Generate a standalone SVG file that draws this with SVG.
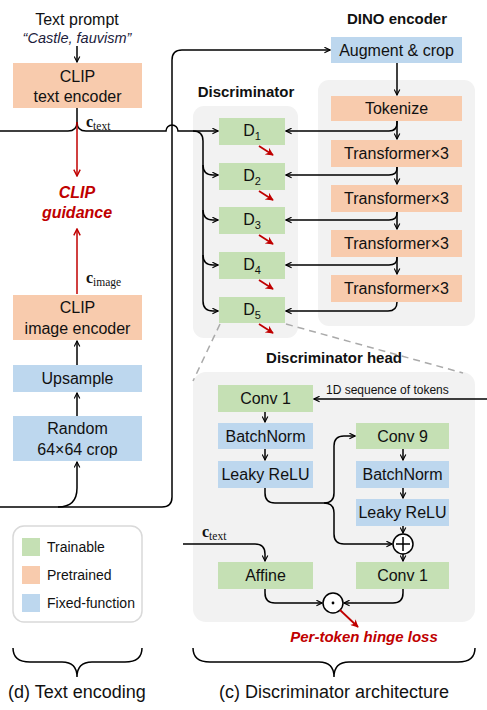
<svg xmlns="http://www.w3.org/2000/svg" width="487" height="710" viewBox="0 0 487 710">
<defs>
<marker id="ah" viewBox="0 0 10 10" refX="9" refY="5" markerWidth="7" markerHeight="7" markerUnits="userSpaceOnUse" orient="auto">
<path d="M1,1 L9,5 L1,9" fill="none" stroke="#000" stroke-width="1.6"/>
</marker>
<marker id="ahr" viewBox="0 0 10 10" refX="9" refY="5" markerWidth="8" markerHeight="8" markerUnits="userSpaceOnUse" orient="auto">
<path d="M1,1 L9,5 L1,9" fill="none" stroke="#c00000" stroke-width="1.8"/>
</marker>
<marker id="ahrf" viewBox="0 0 10 10" refX="9" refY="5" markerWidth="8" markerHeight="8" markerUnits="userSpaceOnUse" orient="auto">
<path d="M0,0 L10,5 L0,10 L3,5 Z" fill="#c00000"/>
</marker>
</defs>
<style>
text{font-family:"Liberation Sans",Arial,sans-serif;fill:#111;}
.t{font-size:16px;text-anchor:middle;}
.h{font-size:15px;font-weight:bold;text-anchor:middle;}
.red{fill:#c00000;font-weight:bold;font-style:italic;text-anchor:middle;}
.math{font-family:"Liberation Serif","DejaVu Serif",serif;}
.g{fill:#c5e0b4;}
.p{fill:#f8cbad;}
.b{fill:#bdd7ee;}
.panel{fill:#f2f2f2;}
.c{fill:none;stroke:#000;stroke-width:1.5;}
.ca{fill:none;stroke:#000;stroke-width:1.5;marker-end:url(#ah);}
.rl{fill:none;stroke:#c00000;stroke-width:1.5;marker-end:url(#ahr);}
.rs{fill:none;stroke:#c00000;stroke-width:1.8;marker-end:url(#ahrf);}
.dash{fill:none;stroke:#aaa;stroke-width:1.5;stroke-dasharray:7,5;}
</style>

<!-- panels -->
<g id="discriminator-panel">
<rect class="panel" x="193" y="106" width="105" height="232" rx="11"/>
<text class="h" x="246" y="97">Discriminator</text>
</g>
<g id="dino-panel">
<rect class="panel" x="318" y="80" width="157" height="246" rx="11"/>
<text class="h" x="397" y="24">DINO encoder</text>
</g>
<g id="head-panel">
<rect class="panel" x="193" y="372" width="282" height="250" rx="13"/>
<text class="h" x="334" y="363">Discriminator head</text>
</g>

<!-- left column -->
<g id="text-prompt">
<text x="77" y="25" style="font-size:16px;text-anchor:middle">Text prompt</text>
<text x="77" y="43" style="font-size:14.5px;font-style:italic;text-anchor:middle;fill:#1c1c3c">“Castle, fauvism”</text>
</g>
<g id="clip-text-encoder">
<rect class="p" x="13" y="63" width="129" height="45"/>
<text class="t" x="77.5" y="81.5">CLIP</text>
<text class="t" x="77.5" y="102">text encoder</text>
</g>
<g id="clip-guidance">
<text class="red" x="77" y="198" style="font-size:16px">CLIP</text>
<text class="red" x="77" y="218" style="font-size:16px">guidance</text>
</g>
<g id="clip-image-encoder">
<rect class="p" x="13" y="295" width="129" height="45"/>
<text class="t" x="77.5" y="313">CLIP</text>
<text class="t" x="77.5" y="333.5">image encoder</text>
</g>
<g id="upsample">
<rect class="b" x="13" y="365" width="129" height="27"/>
<text class="t" x="77.5" y="384">Upsample</text>
</g>
<g id="random-crop">
<rect class="b" x="13" y="416" width="129" height="45"/>
<text class="t" x="77.5" y="434">Random</text>
<text class="t" x="77.5" y="455">64×64 crop</text>
</g>

<!-- DINO -->
<g id="augment-crop">
<rect class="b" x="331" y="37" width="131" height="26"/>
<text class="t" x="396.5" y="55.5">Augment &amp; crop</text>
</g>
<g id="tokenize">
<rect class="p" x="331" y="96" width="131" height="25"/>
<text class="t" x="396.5" y="114">Tokenize</text>
</g>
<g id="transformer-1">
<rect class="p" x="331" y="140" width="131" height="27"/>
<text class="t" x="396.5" y="159">Transformer×3</text>
</g>
<g id="transformer-2">
<rect class="p" x="331" y="185" width="131" height="27"/>
<text class="t" x="396.5" y="204">Transformer×3</text>
</g>
<g id="transformer-3">
<rect class="p" x="331" y="230" width="131" height="27"/>
<text class="t" x="396.5" y="249">Transformer×3</text>
</g>
<g id="transformer-4">
<rect class="p" x="331" y="275" width="131" height="27"/>
<text class="t" x="396.5" y="294">Transformer×3</text>
</g>

<!-- D heads -->
<g id="d1"><rect class="g" x="219" y="118" width="66" height="27"/><text class="t" x="252" y="136">D<tspan font-size="11" dy="4">1</tspan></text></g>
<g id="d2"><rect class="g" x="219" y="163" width="66" height="27"/><text class="t" x="252" y="181">D<tspan font-size="11" dy="4">2</tspan></text></g>
<g id="d3"><rect class="g" x="219" y="207" width="66" height="27"/><text class="t" x="252" y="225">D<tspan font-size="11" dy="4">3</tspan></text></g>
<g id="d4"><rect class="g" x="219" y="252" width="66" height="27"/><text class="t" x="252" y="270">D<tspan font-size="11" dy="4">4</tspan></text></g>
<g id="d5"><rect class="g" x="219" y="297" width="66" height="26"/><text class="t" x="252" y="315">D<tspan font-size="11" dy="4">5</tspan></text></g>

<!-- head nodes -->
<g id="conv1-a"><rect class="g" x="218" y="385" width="95" height="27"/><text class="t" x="265.5" y="404">Conv 1</text></g>
<g id="batchnorm-a"><rect class="b" x="218" y="423" width="95" height="26"/><text class="t" x="265.5" y="441.5">BatchNorm</text></g>
<g id="leaky-a"><rect class="b" x="218" y="461" width="95" height="27"/><text class="t" x="265.5" y="480">Leaky ReLU</text></g>
<g id="conv9"><rect class="g" x="356" y="423" width="93" height="26"/><text class="t" x="402.5" y="441.5">Conv 9</text></g>
<g id="batchnorm-b"><rect class="b" x="356" y="461" width="93" height="27"/><text class="t" x="402.5" y="480">BatchNorm</text></g>
<g id="leaky-b"><rect class="b" x="356" y="499" width="93" height="27"/><text class="t" x="402.5" y="518">Leaky ReLU</text></g>
<g id="sum"><circle cx="403" cy="544" r="10" fill="#fff" stroke="#000" stroke-width="1.5"/><path d="M396,544 H410 M403,537 V551" stroke="#000" stroke-width="1.5"/></g>
<g id="conv1-b"><rect class="g" x="356" y="562" width="93" height="27"/><text class="t" x="402.5" y="581">Conv 1</text></g>
<g id="affine"><rect class="g" x="218" y="562" width="95" height="27"/><text class="t" x="265.5" y="581">Affine</text></g>
<g id="dot-product"><circle cx="333" cy="603" r="10" fill="#fff" stroke="#000" stroke-width="1.5"/><circle cx="333" cy="603" r="1.4" fill="#000"/></g>
<g id="hinge-loss"><text class="red" x="364" y="642" style="font-size:15px">Per-token hinge loss</text></g>

<!-- legend -->
<g id="legend">
<rect x="13" y="526" width="129" height="96" rx="11" fill="#fff" stroke="#d9d9d9" stroke-width="1.5"/>
<rect class="g" x="22" y="538" width="18" height="18"/>
<rect class="p" x="22" y="566" width="18" height="18"/>
<rect class="b" x="22" y="594" width="18" height="18"/>
<text x="47" y="552" style="font-size:14px">Trainable</text>
<text x="47" y="580" style="font-size:14px">Pretrained</text>
<text x="47" y="608" style="font-size:14px">Fixed-function</text>
</g>

<!-- braces and captions -->
<g id="caption-d">
<path class="c" d="M13,648 Q13,662 30,662 H62 Q77,662 77,677 Q77,662 92,662 H125 Q142,662 142,648"/>
<text x="77" y="698" style="font-size:18px;text-anchor:middle">(d) Text encoding</text>
</g>
<g id="caption-c">
<path class="c" d="M193,648 Q193,662 210,662 H319 Q334,662 334,677 Q334,662 349,662 H458 Q475,662 475,648"/>
<text x="334" y="698" style="font-size:18px;text-anchor:middle">(c) Discriminator architecture</text>
</g>

<!-- connectors -->
<g id="connectors">
<path class="ca" d="M77,46 V62"/>
<!-- c_text split -->
<path class="c" d="M0,131 H68 Q77,131 77,122 V108"/>
<path class="ca" d="M77,122 Q77,131 86,131 H166 A6,6 0 0 1 178,131 H218"/>
<path class="c" d="M193,131 Q203,131 203,141 V301"/>
<path class="ca" d="M203,301 Q203,311 213,311 H218"/>
<path class="ca" d="M203,165 Q203,175 213,175 H218"/>
<path class="ca" d="M203,210 Q203,220 213,220 H218"/>
<path class="ca" d="M203,255 Q203,265 213,265 H218"/>
<path class="rl" d="M77,122 V176"/>
<path class="rl" d="M77,294 V229"/>
<!-- image path -->
<path class="ca" d="M0,507 H162 Q172,507 172,497 V60 Q172,50 182,50 H330"/>
<path class="ca" d="M58,507 Q77,507 77,488 V462"/>
<path class="ca" d="M77,416 V393"/>
<path class="ca" d="M77,365 V341"/>
<!-- DINO chain -->
<path class="ca" d="M397,63 V95"/>
<path class="ca" d="M397,121 V139"/>
<path class="ca" d="M397,121 V123 Q397,131 389,131 H286"/>
<path class="ca" d="M397,167 V184"/>
<path class="ca" d="M397,167 V168 Q397,175 389,175 H286"/>
<path class="ca" d="M397,212 V229"/>
<path class="ca" d="M397,212 V213 Q397,220 389,220 H286"/>
<path class="ca" d="M397,257 V274"/>
<path class="ca" d="M397,257 V258 Q397,265 389,265 H286"/>
<path class="ca" d="M397,302 Q397,311 388,311 H286"/>
<!-- D outputs -->
<path class="rs" d="M259,146 L273,155"/>
<path class="rs" d="M259,191 L273,200"/>
<path class="rs" d="M259,235 L273,244"/>
<path class="rs" d="M259,280 L273,289"/>
<path class="rs" d="M259,324 L273,333"/>
<!-- zoom dashes -->
<path class="dash" d="M220,324 L193,381"/>
<path class="dash" d="M286,324 L463,373"/>
<!-- head -->
<text x="326" y="394" style="font-size:12px">1D sequence of tokens</text>
<path class="ca" d="M487,399 H314"/>
<path class="ca" d="M265,412 V422"/>
<path class="ca" d="M265,449 V460"/>
<path class="ca" d="M403,449 V460"/>
<path class="ca" d="M403,488 V498"/>
<path class="ca" d="M403,526 V533"/>
<path class="ca" d="M403,554 V561"/>
<path class="c" d="M265,488 V493 Q265,503 275,503 H324 Q334,503 334,493"/>
<path class="ca" d="M334,493 V446 Q334,436 344,436 H355"/>
<path class="ca" d="M324,503 Q334,503 334,513 V534 Q334,544 344,544 H392"/>
<text x="202" y="537" class="math" style="font-size:16px"><tspan font-weight="bold">c</tspan><tspan font-size="11.5" dy="3">text</tspan></text>
<path class="ca" d="M183,544 H255 Q265,544 265,554 V561"/>
<path class="ca" d="M265,589 V593 Q265,603 275,603 H322"/>
<path class="ca" d="M403,589 V593 Q403,603 393,603 H344"/>
<path class="rs" d="M340,610 L358,627"/>
<text x="86" y="127" class="math" style="font-size:16px"><tspan font-weight="bold">c</tspan><tspan font-size="11.5" dy="3">text</tspan></text>
<text x="86" y="283" class="math" style="font-size:16px"><tspan font-weight="bold">c</tspan><tspan font-size="11.5" dy="3">image</tspan></text>
</g>
</svg>
